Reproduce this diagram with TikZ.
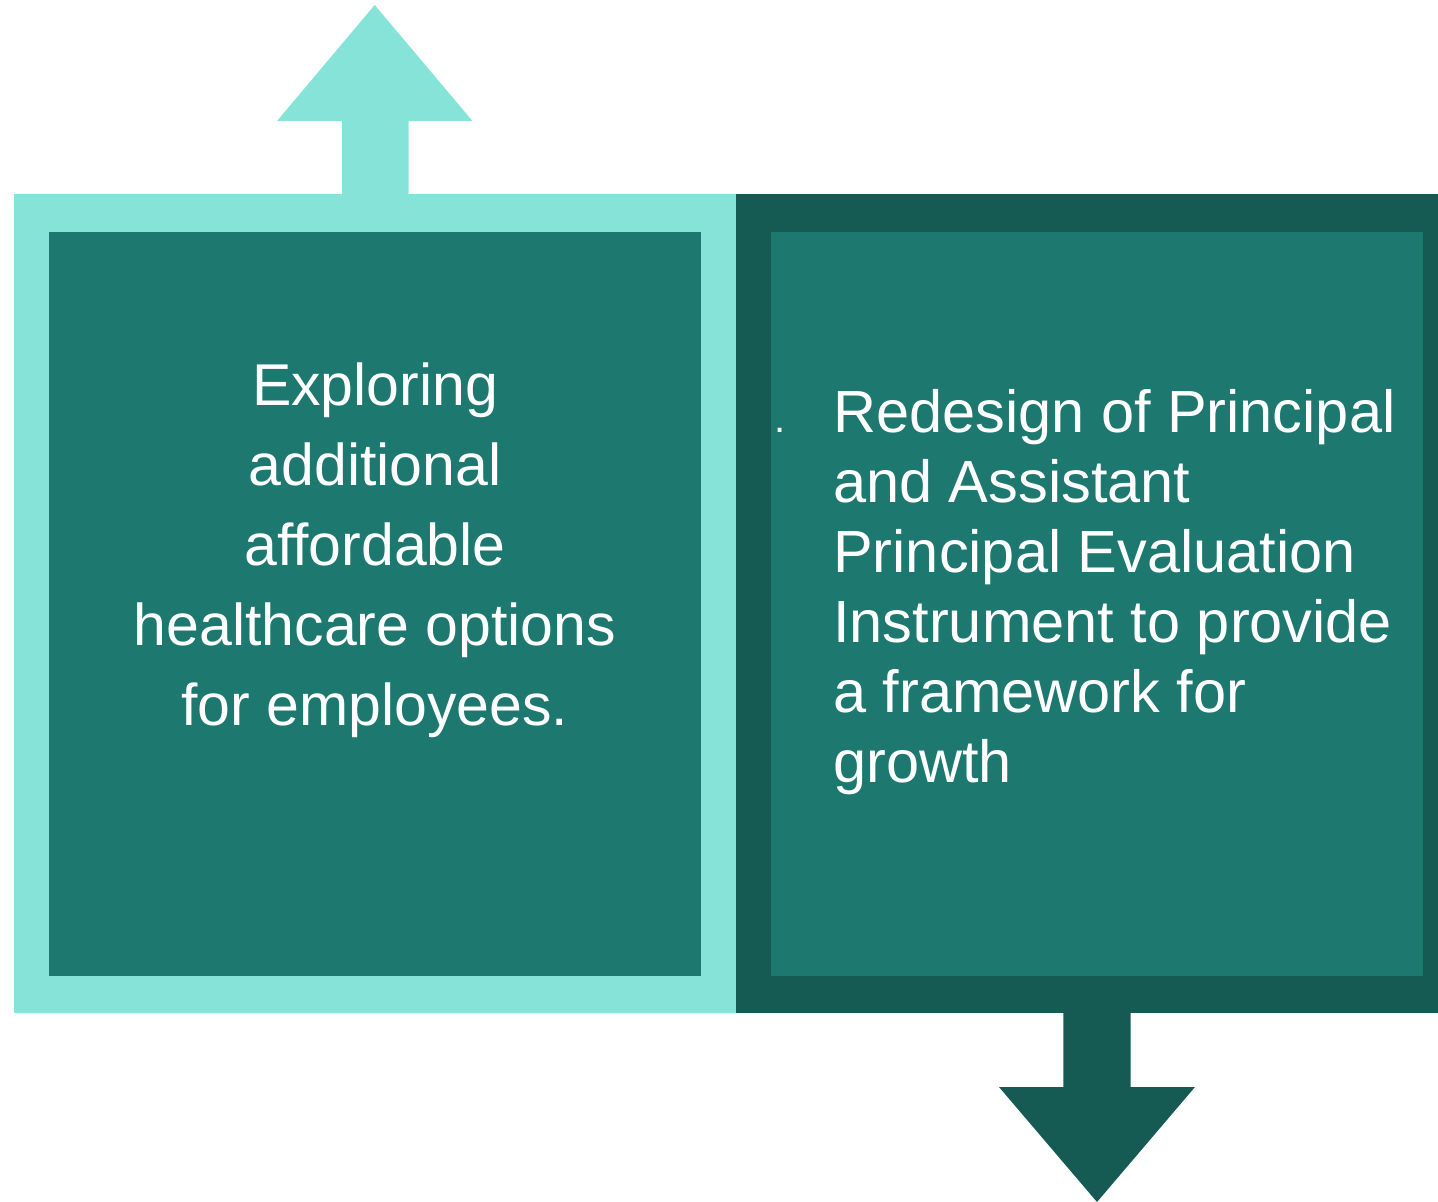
\documentclass[tikz,border=0pt]{standalone}
\usepackage{fontspec}
\setmainfont{Liberation Sans}
\definecolor{lightteal}{HTML}{85E3D8}
\definecolor{midteal}{HTML}{1D786F}
\definecolor{darkteal}{HTML}{165A54}
\tikzset{
  panel/.style={draw=none, inner sep=0pt, anchor=north west},
  bodytext/.style={text=white, inner sep=0pt},
}
\begin{document}
\begin{tikzpicture}[x=1pt,y=-1pt]
\useasboundingbox (0,0) rectangle (1438,1202);
% outer frames
\node[panel, fill=lightteal, minimum width=722pt, minimum height=819pt] (leftouter) at (14,194) {};
\node[panel, fill=darkteal, minimum width=702pt, minimum height=819pt] (rightouter) at (736,194) {};
% arrows
\fill[lightteal] (342,195) -- (342,121) -- (277,121) -- (374.7,5) -- (472.5,121) -- (408.6,121) -- (408.6,195) -- cycle;
\fill[darkteal] (1063.3,1012) -- (1063.3,1087) -- (999,1087) -- (1097,1202) -- (1195,1087) -- (1130.5,1087) -- (1130.5,1012) -- cycle;
% inner boxes
\node[panel, fill=midteal, minimum width=652pt, minimum height=744pt] (leftinner) at (49,232) {};
\node[panel, fill=midteal, minimum width=652pt, minimum height=744pt] (rightinner) at (771,232) {};
% texts
\node[bodytext, anchor=north, align=center, font=\fontsize{59}{80}\selectfont] (lefttext) at (375,355.7)
  {\rule{0pt}{50pt}Exploring\\additional\\affordable\\healthcare options\\for employees.};
\node[bodytext, anchor=north west, align=left, font=\fontsize{59.5}{70}\selectfont] (righttext) at (833,382.3)
  {\rule{0pt}{50pt}Redesign of Principal\\and Assistant\\Principal Evaluation\\Instrument to provide\\a framework for\\growth};
\node[bodytext, anchor=base, font=\fontsize{40}{48}\selectfont] (dot) at (780,432.3) {.};
\end{tikzpicture}
\end{document}
